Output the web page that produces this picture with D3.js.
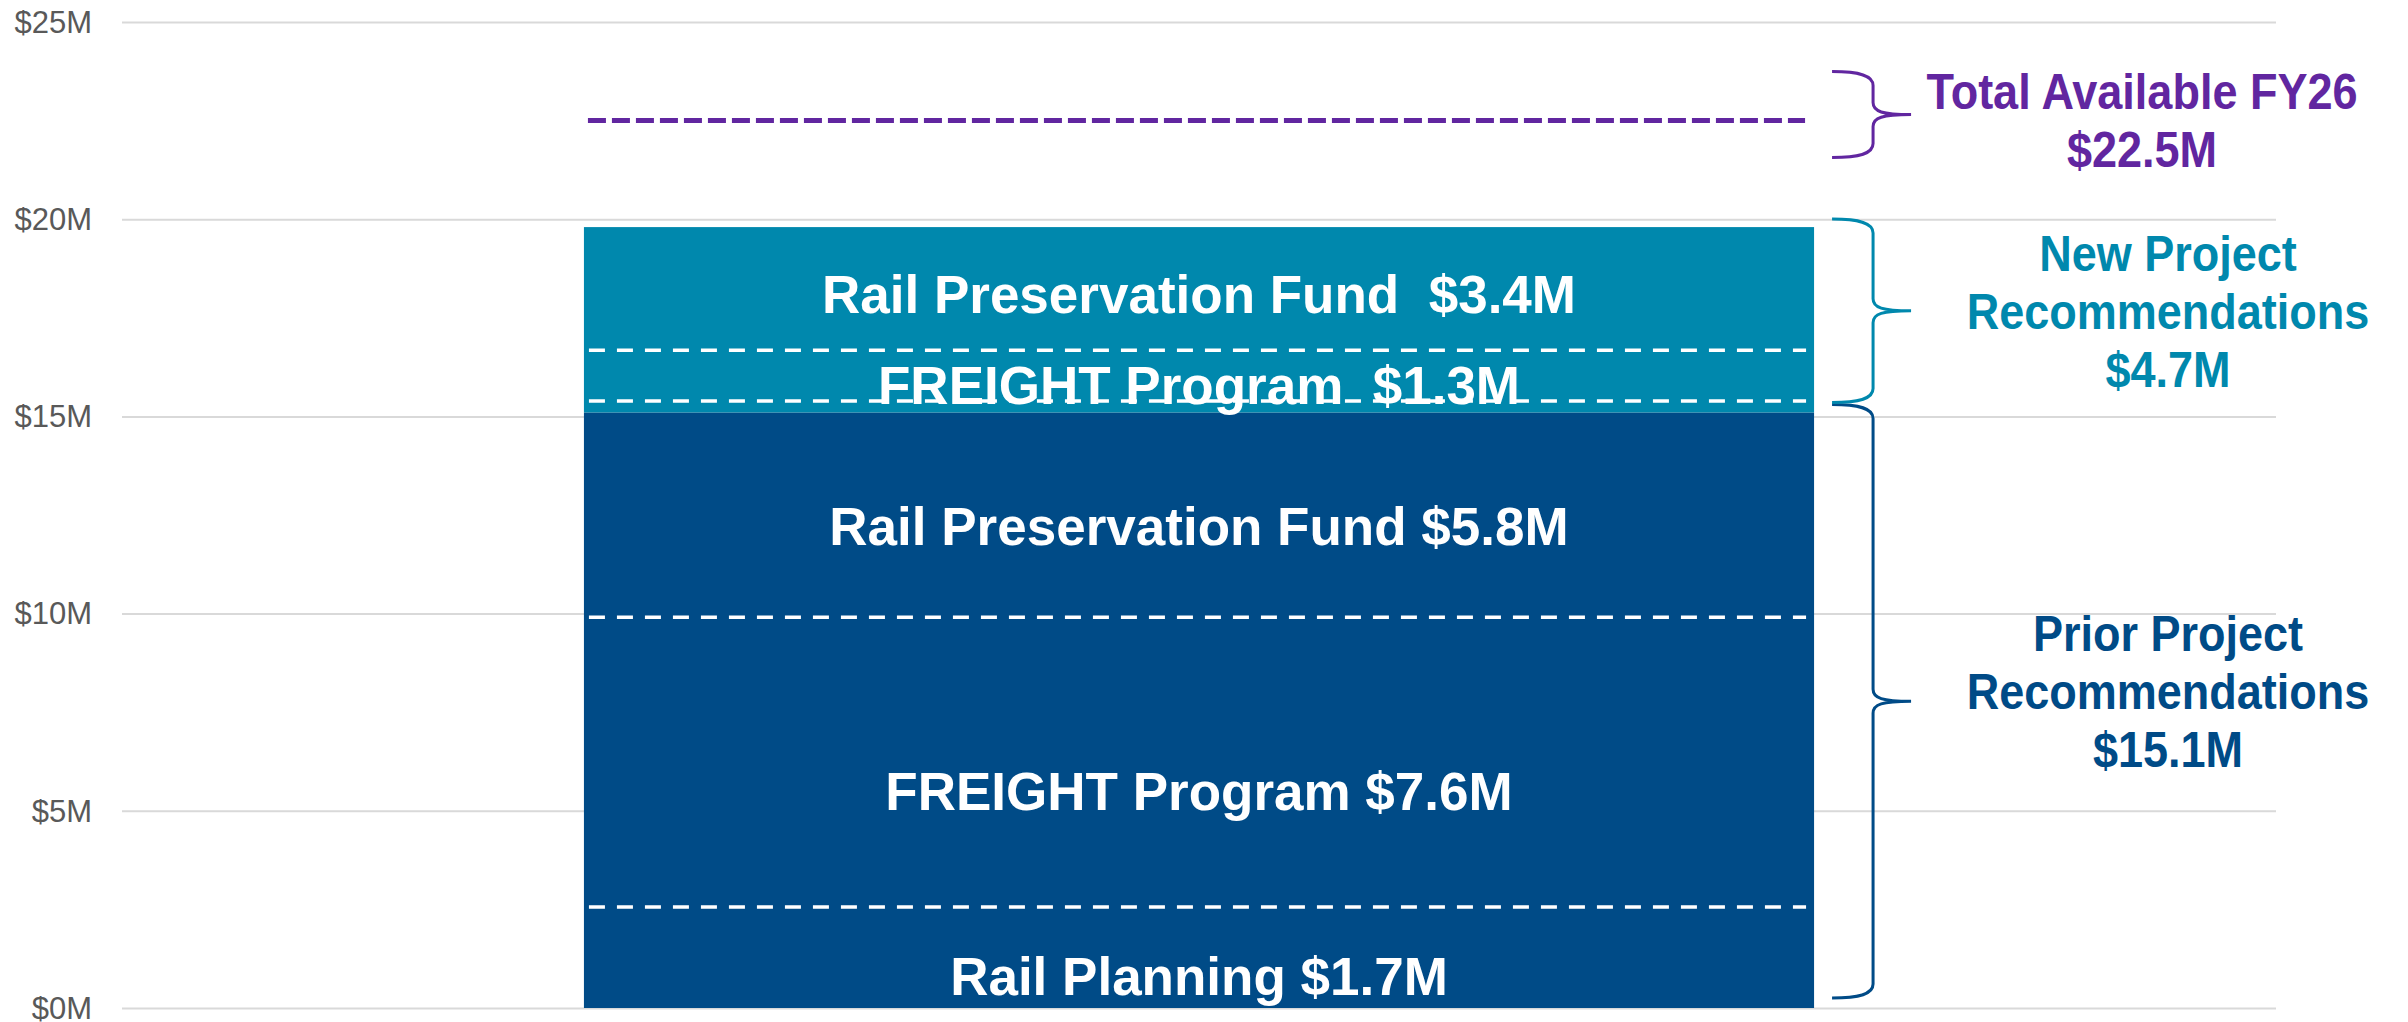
<!DOCTYPE html>
<html>
<head>
<meta charset="utf-8">
<script src="https://cdn.jsdelivr.net/npm/d3@7"></script>
<style>
  html, body { margin: 0; padding: 0; background: #fff; }
  svg { display: block; font-family: "Liberation Sans", Arial, sans-serif; }
</style>
</head>
<body>
<svg id="chart" width="2408" height="1022"></svg>
<script>
// Values in $M.
const yTicks = [0, 5, 10, 15, 20, 25];
const category = ["FY26"];

const projects = ["Rail Planning", "FREIGHT Program", "Rail Preservation Fund", "FREIGHT Program", "Rail Preservation Fund"];
const amounts = [1.7, 7.6, 5.8, 1.3, 3.4];
const projectGroup = [0, 0, 0, 1, 1];
// where each label sits (baseline) and where the dashed dividers are drawn
const labelLevels = [0.33, 5.02, 11.74, 15.31, 17.62];
const dividerLevels = [2.56, 9.91, 15.39, 16.68];

const groupNames = [["Prior Project", "Recommendations"], ["New Project", "Recommendations"]];
const groupTotals = [15.1, 4.7];
const totalName = ["Total Available FY26"];
const totalAvailable = 22.5;

(function () {
  const colors = ["#004b87", "#0088ad"];
  const purple = "#6126a0";
  const fmt = d3.format(".1f");

  const left = 122, right = 2276, top = 22, bottom = 1008;
  const svg = d3.select("#chart");

  const y = d3.scaleLinear().domain([0, 25]).range([bottom, top]);
  const x = d3.scaleBand().domain(category).range([left, right]).paddingInner(0.273).paddingOuter(0.273);

  // Gridlines and tick labels.
  const axis = svg.append("g")
    .attr("transform", `translate(${left},0)`)
    .call(d3.axisLeft(y).tickValues(yTicks).tickFormat((d) => `$${d}M`)
      .tickSize(-(right - left)).tickPadding(30));
  axis.select(".domain").remove();
  axis.selectAll(".tick line").attr("stroke", "#d9d9d9").attr("stroke-width", 2);
  axis.selectAll(".tick text")
    .attr("fill", "#595959").attr("font-size", 31)
    .attr("font-family", "Liberation Sans, Arial, sans-serif")
    .attr("dy", "0.33em");

  const x0 = x("FY26"), bw = x.bandwidth();

  // Group blocks stacked on each other.
  let acc = 0;
  const blocks = groupTotals.map((v, i) => {
    const b = { lo: acc, hi: acc + v, i: i };
    acc += v;
    return b;
  });

  svg.append("g").selectAll("rect")
    .data(blocks)
    .enter().append("rect")
    .attr("x", x0)
    .attr("width", bw)
    .attr("y", (d) => y(d.hi))
    .attr("height", (d) => y(d.lo) - y(d.hi))
    .attr("fill", (d) => colors[d.i]);

  // White dashed dividers inside the bar.
  svg.append("g").selectAll("line")
    .data(dividerLevels)
    .enter().append("line")
    .attr("x1", x0 + 5).attr("x2", x0 + bw - 8)
    .attr("y1", (d) => y(d)).attr("y2", (d) => y(d))
    .attr("stroke", "#fff").attr("stroke-width", 3.5)
    .attr("stroke-dasharray", "16,12");

  // Segment labels.
  svg.append("g").selectAll("text")
    .data(projects)
    .enter().append("text")
    .attr("x", x0 + bw / 2)
    .attr("y", (d, i) => y(labelLevels[i]))
    .attr("text-anchor", "middle")
    .attr("fill", "#fff")
    .attr("font-weight", "bold")
    .attr("font-size", 53)
    .style("white-space", "pre")
    .text((d, i) => `${d}${projectGroup[i] === 1 ? "  " : " "}$${fmt(amounts[i])}M`);

  // Total available line.
  svg.append("line")
    .attr("x1", x0 + 4).attr("x2", x0 + bw - 9)
    .attr("y1", y(totalAvailable)).attr("y2", y(totalAvailable))
    .attr("stroke", purple).attr("stroke-width", 5)
    .attr("stroke-dasharray", "18,6");

  // Curly brace opening to the right.
  function brace(yTop, yBot, color) {
    const bx = x0 + bw + 18, sx = bx + 41, tx = bx + 79, ym = (yTop + yBot) / 2;
    const p = `M${bx},${yTop} C${bx + 28},${yTop} ${sx},${yTop + 4} ${sx},${yTop + 14}` +
      ` L${sx},${ym - 12} C${sx},${ym - 3} ${sx + 9},${ym} ${tx},${ym}` +
      ` M${tx},${ym} C${sx + 9},${ym} ${sx},${ym + 3} ${sx},${ym + 12}` +
      ` L${sx},${yBot - 14} C${sx},${yBot - 4} ${bx + 28},${yBot} ${bx},${yBot}`;
    svg.append("path").attr("d", p).attr("fill", "none")
      .attr("stroke", color).attr("stroke-width", 3);
    return ym;
  }

  function note(lines, cx, ym, color) {
    const lh = 58;
    const first = ym - ((lines.length - 1) * lh) / 2 + 18;
    const t = svg.append("g").selectAll("text")
      .data(lines)
      .enter().append("text")
      .attr("x", cx)
      .attr("y", (d, i) => first + i * lh)
      .attr("text-anchor", "middle")
      .attr("fill", color)
      .attr("font-weight", "bold")
      .attr("font-size", 50)
      .text((d) => d);
    // condensed look of the original
    t.each(function () {
      const w = this.getComputedTextLength();
      d3.select(this).attr("textLength", w * 0.9).attr("lengthAdjust", "spacingAndGlyphs");
    });
  }

  const yt = y(totalAvailable) - 6;
  brace(yt - 43, yt + 43, purple);
  note([totalName[0], `$${fmt(totalAvailable)}M`], 2142, yt + 5, purple);

  const shift = [-10, 0];
  blocks.forEach((b) => {
    const ym = brace(y(b.hi) - 8, y(b.lo) - 10, colors[b.i]);
    note([...groupNames[b.i], `$${fmt(groupTotals[b.i])}M`], 2168, ym + shift[b.i], colors[b.i]);
  });
})();
</script>
</body>
</html>
